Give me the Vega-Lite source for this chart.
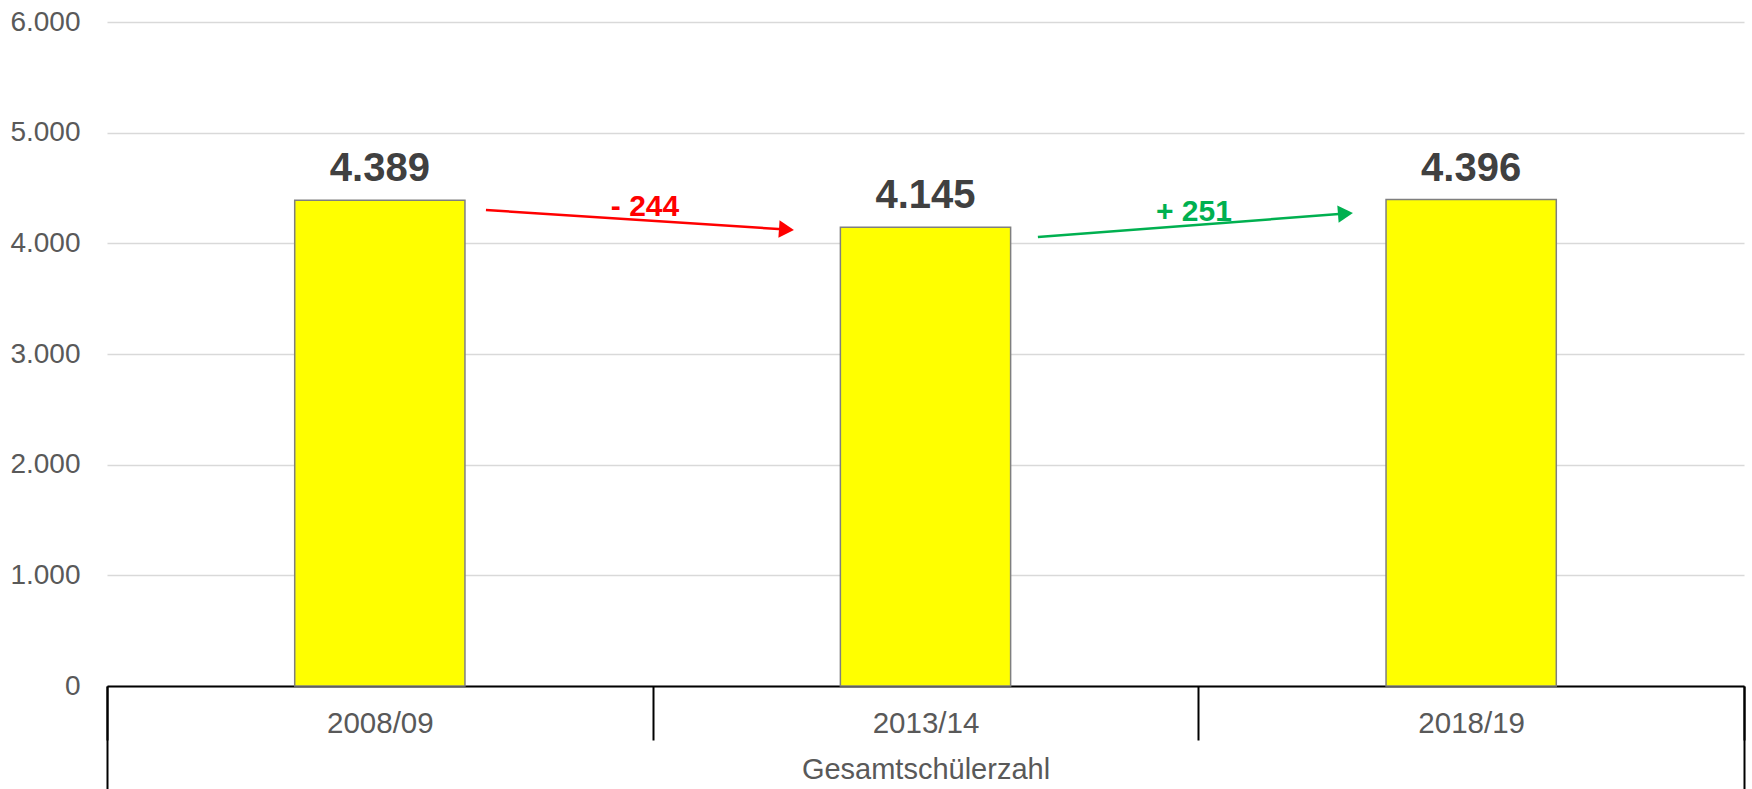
{
  "$schema": "https://vega.github.io/schema/vega-lite/v6.json",
  "width": 1637,
  "height": 664,
  "autosize": "none",
  "padding": {"left": 107, "top": 22, "right": 8, "bottom": 103},
  "background": "white",
  "config": {
    "view": {"stroke": null},
    "font": "Liberation Sans",
    "locale": {"number": {"decimal": ",", "thousands": ".", "grouping": [3], "currency": ["", " €"]}}
  },
  "datasets": {
    "schueler": [
      {"Jahr": "2008/09", "Anzahl": 4389},
      {"Jahr": "2013/14", "Anzahl": 4145},
      {"Jahr": "2018/19", "Anzahl": 4396}
    ],
    "pfeile": [
      {"richtung": "ab", "label": "- 244", "x1": 0.6945, "y1": 4301, "x2": 1.2452, "y2": 4125, "lx": 0.986, "ly": 4247},
      {"richtung": "auf", "label": "+ 251", "x1": 1.706, "y1": 4057, "x2": 2.2696, "y2": 4269, "lx": 1.992, "ly": 4202}
    ]
  },
  "resolve": {"scale": {"x": "independent"}},
  "layer": [
    {
      "data": {"name": "schueler"},
      "encoding": {
        "x": {
          "field": "Jahr", "type": "nominal", "sort": null,
          "scale": {"paddingInner": 0, "paddingOuter": 0},
          "axis": {
            "orient": "bottom",
            "tickBand": "extent",
            "tickSize": 54,
            "tickColor": "black",
            "tickWidth": 2,
            "domainColor": "black",
            "domainWidth": 2,
            "labelAngle": 0,
            "labelFontSize": 29.5,
            "labelColor": "#595959",
            "labelBaseline": "alphabetic",
            "labelPadding": -8,
            "grid": false,
            "title": "Gesamtschülerzahl",
            "titleY": 92,
            "titleBaseline": "alphabetic",
            "titleFontSize": 29,
            "titleFontWeight": "normal",
            "titleColor": "#595959"
          }
        },
        "y": {
          "field": "Anzahl", "type": "quantitative",
          "scale": {"domain": [0, 6000], "nice": false},
          "axis": {
            "values": [0, 1000, 2000, 3000, 4000, 5000, 6000],
            "format": ",d",
            "labelFontSize": 28,
            "labelColor": "#595959",
            "labelPadding": 27,
            "ticks": false,
            "domain": false,
            "gridColor": "#D9D9D9",
            "gridWidth": 1.5,
            "title": null
          }
        }
      },
      "layer": [
        {
          "mark": {"type": "bar", "fill": "#FFFF00", "stroke": "#7F7F7F", "strokeWidth": 1.5, "width": {"band": 0.312}}
        },
        {
          "mark": {"type": "text", "baseline": "alphabetic", "dy": -19, "fontSize": 40, "fontWeight": "bold", "color": "#404040"},
          "encoding": {"text": {"field": "Anzahl", "type": "quantitative", "format": ",d"}}
        }
      ]
    },
    {
      "data": {"name": "pfeile"},
      "layer": [
        {
          "mark": {"type": "rule", "strokeWidth": 2.5},
          "encoding": {
            "x": {
              "field": "x1", "type": "quantitative",
              "scale": {"domain": [0, 3], "nice": false, "zero": false},
              "axis": {
                "orient": "bottom",
                "values": [0, 3],
                "tickSize": 103,
                "tickColor": "black",
                "tickWidth": 2,
                "labels": false,
                "domain": false,
                "grid": false,
                "title": null
              }
            },
            "x2": {"field": "x2"},
            "y": {"field": "y1", "type": "quantitative", "scale": {"domain": [0, 6000], "nice": false}},
            "y2": {"field": "y2"},
            "color": {"field": "richtung", "type": "nominal", "scale": {"domain": ["ab", "auf"], "range": ["#FF0000", "#00B050"]}, "legend": null}
          }
        },
        {
          "mark": {"type": "point", "shape": "triangle-right", "filled": true, "size": 300, "opacity": 1},
          "encoding": {
            "x": {"field": "x2", "type": "quantitative"},
            "y": {"field": "y2", "type": "quantitative"},
            "angle": {"field": "richtung", "type": "nominal", "scale": {"domain": ["ab", "auf"], "range": [3.7, 355.6]}, "legend": null},
            "color": {"field": "richtung", "type": "nominal", "legend": null}
          }
        },
        {
          "mark": {"type": "text", "fontSize": 30, "fontWeight": "bold", "baseline": "alphabetic", "align": "center"},
          "encoding": {
            "x": {"field": "lx", "type": "quantitative"},
            "y": {"field": "ly", "type": "quantitative"},
            "text": {"field": "label"},
            "color": {"field": "richtung", "type": "nominal", "legend": null}
          }
        }
      ]
    }
  ]
}
